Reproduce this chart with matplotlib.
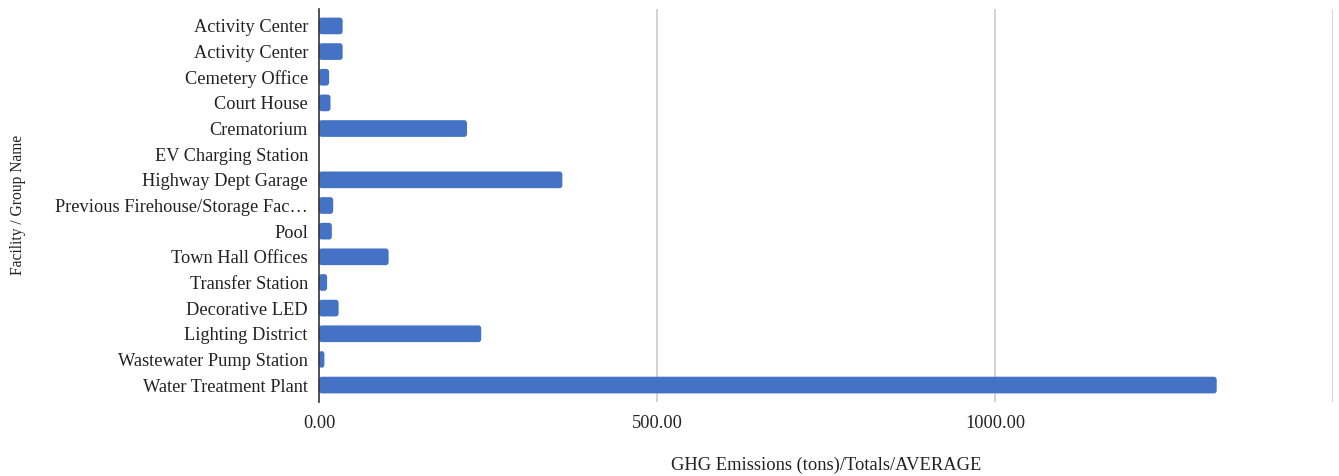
import matplotlib
matplotlib.use("Agg")
import matplotlib.pyplot as plt
from matplotlib.patches import FancyBboxPatch

categories = [
    "Activity Center",
    "Activity Center",
    "Cemetery Office",
    "Court House",
    "Crematorium",
    "EV Charging Station",
    "Highway Dept Garage",
    "Previous Firehouse/Storage Fac\u2026",
    "Pool",
    "Town Hall Offices",
    "Transfer Station",
    "Decorative LED",
    "Lighting District",
    "Wastewater Pump Station",
    "Water Treatment Plant",
]
values = [35, 35, 15, 17, 219, 0, 360, 21, 19, 103, 12, 29, 240, 8, 1328]
x_ticks = [0, 500, 1000]
x_tick_labels = ["0.00", "500.00", "1000.00"]

plt.rcParams['font.family'] = ['Liberation Serif', 'DejaVu Serif']

fig = plt.figure(figsize=(13.39, 4.76), dpi=100)
ax = fig.add_axes([319/1339, 1 - 402/476, (1333 - 319)/1339, (402 - 9)/476])

color = "#4472C4"
y = list(range(len(categories)))
bars = ax.barh(y, values, height=0.65, color=color, alpha=0)
for b in bars:
    w = b.get_width()
    if w <= 0:
        continue
    x0, y0, h = b.get_x(), b.get_y(), b.get_height()
    r = min(4.0, w / 2)
    p = FancyBboxPatch((x0, y0), w, h,
                       boxstyle=f"round,pad=0,rounding_size={r}",
                       mutation_aspect=0.03, facecolor=color, edgecolor="none", zorder=2)
    ax.add_patch(p)

ax.set_xlim(0, 1500)
ax.set_ylim(len(categories) - 1 + 0.66, -0.66)
ax.set_yticks(y)
ax.set_yticklabels(categories, fontsize=13.2, color="#222222")
ax.set_xticks(x_ticks)
ax.set_xticklabels(x_tick_labels, fontsize=13.2, color="#222222")
for gx in [500, 1000, 1500]:
    ax.axvline(gx, color="#cccccc", linewidth=1.2, zorder=0)
ax.tick_params(axis="both", length=0)
ax.tick_params(axis="x", pad=9)
ax.tick_params(axis="y", pad=8)
for s in ["top", "right", "bottom"]:
    ax.spines[s].set_visible(False)
ax.spines["left"].set_color("#333333")
ax.spines["left"].set_linewidth(1.2)
ax.spines["left"].set_zorder(3)

fig.text(826/1339, 1 - 465/476, "GHG Emissions (tons)/Totals/AVERAGE", fontsize=13.3,
         color="#222222", ha="center", va="center")
fig.text(18/1339, 1 - 205/476, "Facility / Group Name", rotation=90, fontsize=11.2,
         color="#222222", ha="center", va="center")

fig.savefig("out.png", dpi=100)
